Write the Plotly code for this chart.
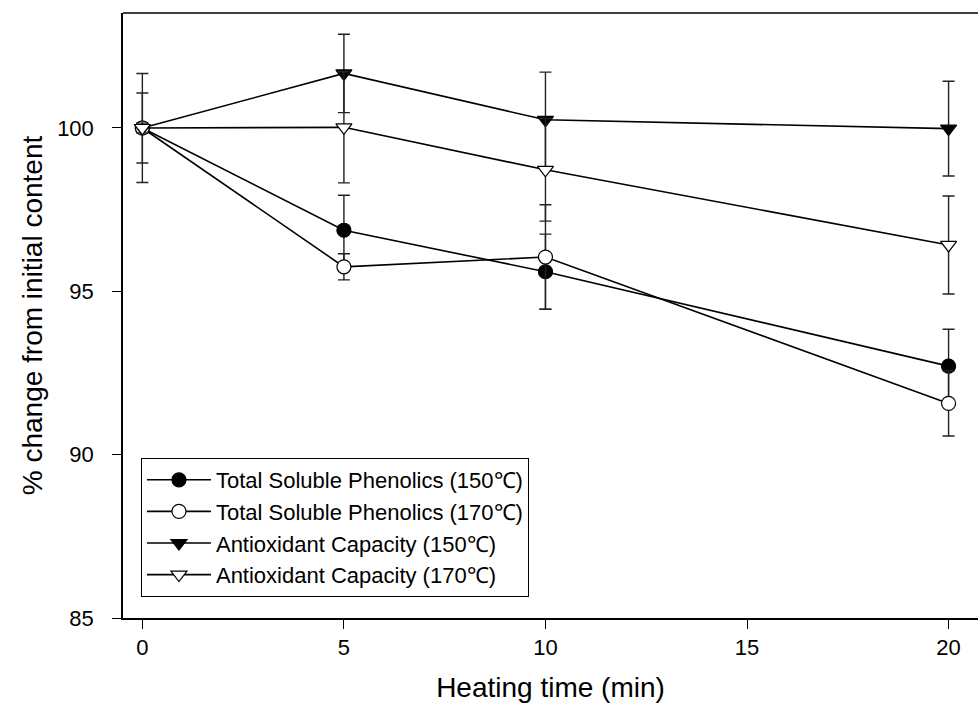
import plotly.graph_objects as go

# ---- data ----
heating_time = [0, 5, 10, 20]

tsp_150 = [100.0, 96.87, 95.60, 92.71]
tsp_150_err = [1.07, 1.07, 1.15, 1.13]

tsp_170 = [100.0, 95.75, 96.05, 91.57]
tsp_170_err = [0.15, 0.40, 1.60, 1.00]

ac_150 = [100.0, 101.67, 100.25, 99.98]
ac_150_err = [1.67, 1.20, 1.46, 1.45]

ac_170 = [100.0, 100.02, 98.72, 96.42]
ac_170_err = [0.15, 1.70, 1.57, 1.50]

series_names = [
    "Total Soluble Phenolics (150\u2103)",
    "Total Soluble Phenolics (170\u2103)",
    "Antioxidant Capacity (150\u2103)",
    "Antioxidant Capacity (170\u2103)",
]

x_ticks = [0, 5, 10, 15, 20]
y_ticks = [85, 90, 95, 100]

FONT = "Arial, Liberation Sans, Helvetica, sans-serif"

fig = go.Figure()

styles = [
    (tsp_150, tsp_150_err, "circle", "black"),
    (tsp_170, tsp_170_err, "circle", "white"),
    (ac_150, ac_150_err, "triangle-down", "black"),
    (ac_170, ac_170_err, "triangle-down", "white"),
]

for (vals, errs, sym, fill), name in zip(styles, series_names):
    fig.add_trace(go.Scatter(
        x=heating_time, y=vals, name=name, mode="lines+markers",
        line=dict(color="black", width=1.6),
        marker=dict(symbol=sym, size=14, color=fill,
                    line=dict(color="black", width=1.2)),
        error_y=dict(type="data", array=errs, visible=True,
                     color="#222222", thickness=1.4, width=6),
    ))

fig.update_layout(
    width=978, height=719,
    margin=dict(l=123, r=0, t=13, b=101),
    paper_bgcolor="white", plot_bgcolor="white",
    font=dict(family=FONT, color="black"),
    showlegend=True,
    legend=dict(
        x=0.021, y=0.2645, xanchor="left", yanchor="top",
        bgcolor="white", bordercolor="black", borderwidth=1,
        font=dict(family=FONT, size=22, color="black"),
        itemwidth=64, tracegroupgap=0,
    ),
    shapes=[dict(type="line", xref="paper", yref="paper",
                 x0=0, x1=1, y0=1, y1=1,
                 line=dict(color="black", width=1.5))],
)

fig.update_xaxes(
    range=[-0.48, 20.73], tickvals=x_ticks,
    ticks="outside", ticklen=9, tickwidth=1.3, tickcolor="black",
    showline=True, linecolor="black", linewidth=1.5,
    showgrid=False, zeroline=False,
    tickfont=dict(family=FONT, size=22),
    title=dict(text="Heating time (min)", font=dict(family=FONT, size=28),
               standoff=18),
)
fig.update_yaxes(
    range=[85, 103.52], tickvals=y_ticks,
    ticks="outside", ticklen=9, tickwidth=1.3, tickcolor="black",
    showline=True, linecolor="black", linewidth=1.5,
    showgrid=False, zeroline=False,
    tickfont=dict(family=FONT, size=22),
    ticklabelstandoff=14,
    title=dict(text="% change from initial content",
               font=dict(family=FONT, size=28), standoff=6),
)

fig.write_html("out.html")
